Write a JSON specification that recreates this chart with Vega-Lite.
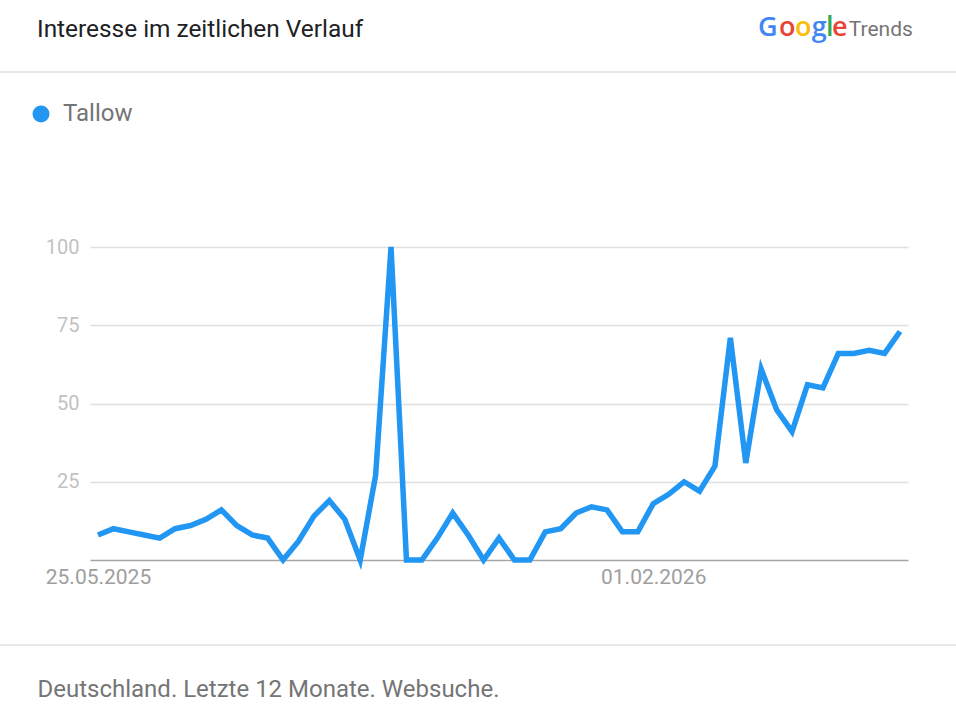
{
  "$schema": "https://vega.github.io/schema/vega-lite/v6.json",
  "width": 818,
  "height": 313,
  "autosize": {"type": "none"},
  "padding": {"left": 90, "top": 247, "right": 48, "bottom": 152},
  "background": "white",
  "config": {"view": {"stroke": null}, "font": "Roboto"},
  "title": {
    "text": "Interesse im zeitlichen Verlauf",
    "anchor": "start",
    "frame": "group",
    "dx": -53,
    "offset": -47,
    "baseline": "alphabetic",
    "fontSize": 24.4,
    "fontWeight": "normal",
    "font": "Roboto",
    "color": "#202124"
  },
  "datasets": {
    "trend": [
      {"date": "2025-05-25", "term": "Tallow", "value": 8},
      {"date": "2025-06-01", "term": "Tallow", "value": 10},
      {"date": "2025-06-08", "term": "Tallow", "value": 9},
      {"date": "2025-06-15", "term": "Tallow", "value": 8},
      {"date": "2025-06-22", "term": "Tallow", "value": 7},
      {"date": "2025-06-29", "term": "Tallow", "value": 10},
      {"date": "2025-07-06", "term": "Tallow", "value": 11},
      {"date": "2025-07-13", "term": "Tallow", "value": 13},
      {"date": "2025-07-20", "term": "Tallow", "value": 16},
      {"date": "2025-07-27", "term": "Tallow", "value": 11},
      {"date": "2025-08-03", "term": "Tallow", "value": 8},
      {"date": "2025-08-10", "term": "Tallow", "value": 7},
      {"date": "2025-08-17", "term": "Tallow", "value": 0},
      {"date": "2025-08-24", "term": "Tallow", "value": 6},
      {"date": "2025-08-31", "term": "Tallow", "value": 14},
      {"date": "2025-09-07", "term": "Tallow", "value": 19},
      {"date": "2025-09-14", "term": "Tallow", "value": 13},
      {"date": "2025-09-21", "term": "Tallow", "value": 0},
      {"date": "2025-09-28", "term": "Tallow", "value": 27},
      {"date": "2025-10-05", "term": "Tallow", "value": 100},
      {"date": "2025-10-12", "term": "Tallow", "value": 0},
      {"date": "2025-10-19", "term": "Tallow", "value": 0},
      {"date": "2025-10-26", "term": "Tallow", "value": 7},
      {"date": "2025-11-02", "term": "Tallow", "value": 15},
      {"date": "2025-11-09", "term": "Tallow", "value": 8},
      {"date": "2025-11-16", "term": "Tallow", "value": 0},
      {"date": "2025-11-23", "term": "Tallow", "value": 7},
      {"date": "2025-11-30", "term": "Tallow", "value": 0},
      {"date": "2025-12-07", "term": "Tallow", "value": 0},
      {"date": "2025-12-14", "term": "Tallow", "value": 9},
      {"date": "2025-12-21", "term": "Tallow", "value": 10},
      {"date": "2025-12-28", "term": "Tallow", "value": 15},
      {"date": "2026-01-04", "term": "Tallow", "value": 17},
      {"date": "2026-01-11", "term": "Tallow", "value": 16},
      {"date": "2026-01-18", "term": "Tallow", "value": 9},
      {"date": "2026-01-25", "term": "Tallow", "value": 9},
      {"date": "2026-02-01", "term": "Tallow", "value": 18},
      {"date": "2026-02-08", "term": "Tallow", "value": 21},
      {"date": "2026-02-15", "term": "Tallow", "value": 25},
      {"date": "2026-02-22", "term": "Tallow", "value": 22},
      {"date": "2026-03-01", "term": "Tallow", "value": 30},
      {"date": "2026-03-08", "term": "Tallow", "value": 71},
      {"date": "2026-03-15", "term": "Tallow", "value": 31},
      {"date": "2026-03-22", "term": "Tallow", "value": 61},
      {"date": "2026-03-29", "term": "Tallow", "value": 48},
      {"date": "2026-04-05", "term": "Tallow", "value": 41},
      {"date": "2026-04-12", "term": "Tallow", "value": 56},
      {"date": "2026-04-19", "term": "Tallow", "value": 55},
      {"date": "2026-04-26", "term": "Tallow", "value": 66},
      {"date": "2026-05-03", "term": "Tallow", "value": 66},
      {"date": "2026-05-10", "term": "Tallow", "value": 67},
      {"date": "2026-05-17", "term": "Tallow", "value": 66},
      {"date": "2026-05-24", "term": "Tallow", "value": 73}
    ]
  },
  "layer": [
    {
      "data": {"name": "trend"},
      "mark": {"type": "line", "strokeWidth": 5.5, "strokeJoin": "miter", "strokeCap": "butt"},
      "encoding": {
        "x": {
          "field": "date",
          "type": "temporal",
          "scale": {
            "type": "utc",
            "nice": false,
            "domain": [
              {"year": 2025, "month": 5, "date": 21, "hours": 9, "utc": true},
              {"year": 2026, "month": 5, "date": 27, "hours": 15, "utc": true}
            ]
          },
          "axis": {
            "values": [
              {"year": 2025, "month": 5, "date": 25, "utc": true},
              {"year": 2026, "month": 2, "date": 1, "utc": true}
            ],
            "labelExpr": "utcFormat(datum.value, '%d.%m.%Y')",
            "grid": false,
            "ticks": false,
            "domain": true,
            "domainColor": "#a6a6a6",
            "domainWidth": 1.5,
            "labelFont": "Roboto",
            "labelFontSize": 21,
            "labelColor": "#9e9e9e",
            "labelPadding": 6,
            "labelFlush": false,
            "labelOverlap": false,
            "title": "Deutschland. Letzte 12 Monate. Websuche.",
            "titleFont": "Roboto",
            "titleFontSize": 24,
            "titleFontWeight": "normal",
            "titleColor": "#757575",
            "titleAlign": "left",
            "titleAnchor": "start",
            "titleBaseline": "alphabetic",
            "titleX": -53,
            "titleY": 136
          }
        },
        "y": {
          "field": "value",
          "type": "quantitative",
          "scale": {"domain": [0, 100], "nice": false, "zero": true},
          "axis": {
            "values": [25, 50, 75, 100],
            "grid": true,
            "gridColor": "#e0e0e0",
            "gridWidth": 1.5,
            "domain": false,
            "ticks": false,
            "labelFont": "Roboto",
            "labelFontSize": 20,
            "labelColor": "#c2c2c2",
            "labelPadding": 11,
            "title": null
          }
        },
        "color": {
          "field": "term",
          "type": "nominal",
          "scale": {"range": ["#2196f3"]},
          "legend": {
            "orient": "none",
            "legendX": -61,
            "legendY": -145,
            "title": null,
            "padding": 0,
            "symbolType": "circle",
            "symbolSize": 289,
            "symbolFillColor": "#2196f3",
            "symbolStrokeColor": "#2196f3",
            "symbolStrokeWidth": 0,
            "labelFont": "Roboto",
            "labelFontSize": 24,
            "labelColor": "#757575",
            "labelOffset": 10
          }
        }
      }
    },
    {
      "data": {"values": [{}]},
      "mark": {"type": "rule", "color": "#e0e0e0", "strokeWidth": 1.5},
      "encoding": {
        "x": {"datum": {"year": 2024, "month": 1, "date": 1, "utc": true}, "type": "temporal"},
        "x2": {"datum": {"year": 2027, "month": 12, "date": 31, "utc": true}},
        "y": {"datum": 155.9, "type": "quantitative"}
      }
    },
    {
      "data": {"values": [{}]},
      "mark": {"type": "rule", "color": "#e0e0e0", "strokeWidth": 1.5},
      "encoding": {
        "x": {"datum": {"year": 2024, "month": 1, "date": 1, "utc": true}, "type": "temporal"},
        "x2": {"datum": {"year": 2027, "month": 12, "date": 31, "utc": true}},
        "y": {"datum": -27.16, "type": "quantitative"}
      }
    },
    {
      "data": {"values": [{}]},
      "mark": {"type": "text", "text": "G", "color": "#4285f4", "font": "Open Sans", "fontSize": 27, "fontWeight": 600, "align": "center", "baseline": "alphabetic", "dx": 11},
      "encoding": {
        "x": {"datum": {"year": 2026, "month": 3, "date": 20, "utc": true}, "type": "temporal"},
        "y": {"datum": 167.4, "type": "quantitative"}
      }
    },
    {
      "data": {"values": [{}]},
      "mark": {"type": "text", "text": "o", "color": "#ea4335", "font": "Open Sans", "fontSize": 27, "fontWeight": 600, "align": "center", "baseline": "alphabetic", "dx": 30.5},
      "encoding": {
        "x": {"datum": {"year": 2026, "month": 3, "date": 20, "utc": true}, "type": "temporal"},
        "y": {"datum": 167.4, "type": "quantitative"}
      }
    },
    {
      "data": {"values": [{}]},
      "mark": {"type": "text", "text": "o", "color": "#fbbc05", "font": "Open Sans", "fontSize": 27, "fontWeight": 600, "align": "center", "baseline": "alphabetic", "dx": 46.5},
      "encoding": {
        "x": {"datum": {"year": 2026, "month": 3, "date": 20, "utc": true}, "type": "temporal"},
        "y": {"datum": 167.4, "type": "quantitative"}
      }
    },
    {
      "data": {"values": [{}]},
      "mark": {"type": "text", "text": "g", "color": "#4285f4", "font": "Open Sans", "fontSize": 27, "fontWeight": 600, "align": "center", "baseline": "alphabetic", "dx": 62.5},
      "encoding": {
        "x": {"datum": {"year": 2026, "month": 3, "date": 20, "utc": true}, "type": "temporal"},
        "y": {"datum": 167.4, "type": "quantitative"}
      }
    },
    {
      "data": {"values": [{}]},
      "mark": {"type": "text", "text": "l", "color": "#34a853", "font": "Open Sans", "fontSize": 27, "fontWeight": 600, "align": "center", "baseline": "alphabetic", "dx": 73},
      "encoding": {
        "x": {"datum": {"year": 2026, "month": 3, "date": 20, "utc": true}, "type": "temporal"},
        "y": {"datum": 167.4, "type": "quantitative"}
      }
    },
    {
      "data": {"values": [{}]},
      "mark": {"type": "text", "text": "e", "color": "#ea4335", "font": "Open Sans", "fontSize": 27, "fontWeight": 600, "align": "center", "baseline": "alphabetic", "dx": 83},
      "encoding": {
        "x": {"datum": {"year": 2026, "month": 3, "date": 20, "utc": true}, "type": "temporal"},
        "y": {"datum": 167.4, "type": "quantitative"}
      }
    },
    {
      "data": {"values": [{}]},
      "mark": {"type": "text", "text": "Trends", "color": "#757575", "font": "Roboto", "fontSize": 21, "align": "left", "baseline": "alphabetic", "dx": 92},
      "encoding": {
        "x": {"datum": {"year": 2026, "month": 3, "date": 20, "utc": true}, "type": "temporal"},
        "y": {"datum": 167.4, "type": "quantitative"}
      }
    }
  ]
}
